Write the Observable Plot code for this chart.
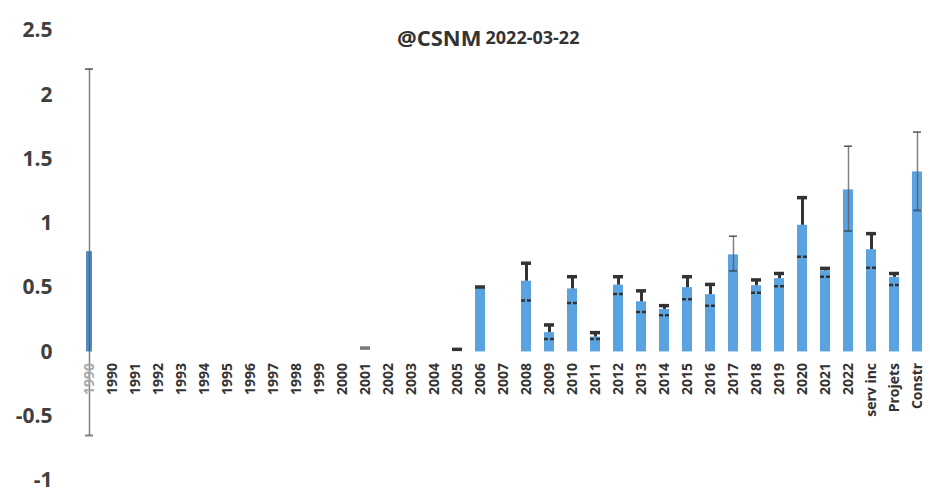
<!DOCTYPE html>
<html><head><meta charset="utf-8">
<script src="https://cdn.jsdelivr.net/npm/d3@7"></script>
<script src="https://cdn.jsdelivr.net/npm/@observablehq/plot@0.6"></script>
<style>body{margin:0;background:#fff;} #chart{width:930px;height:493px;}</style>
</head><body><div id="chart"></div>
<script>
const labels = ["1990","1990","1991","1992","1993","1994","1995","1996","1997","1998","1999","2000","2001","2002","2003","2004","2005","2006","2007","2008","2009","2010","2011","2012","2013","2014","2015","2016","2017","2018","2019","2020","2021","2022","serv inc","Projets","Constr"];
const values = [0.78,null,null,null,null,null,null,null,null,null,null,null,0.03,null,null,null,0.02,0.50,null,0.55,0.15,0.49,0.115,0.52,0.39,0.33,0.50,0.445,0.755,0.515,0.57,0.985,0.63,1.26,0.795,0.58,1.40];
const upper  = [2.20,null,null,null,null,null,null,null,null,null,null,null,0.03,null,null,null,0.02,0.505,null,0.69,0.21,0.585,0.15,0.585,0.475,0.36,0.585,0.525,0.90,0.56,0.61,1.20,0.65,1.60,0.92,0.61,1.71];
const lower  = [-0.65,null,null,null,null,null,null,null,null,null,null,null,null,null,null,null,null,null,null,0.40,0.10,0.38,0.10,0.45,0.31,0.285,0.41,0.36,0.63,0.46,0.51,0.74,0.585,0.94,0.655,0.52,1.10];
const faintErrors = [0, 28, 33, 36]; // indices with thin grey error bars
const yTicks = [-1,-0.5,0,0.5,1,1.5,2,2.5];
const titleMain = "@CSNM";
const titleDate = "2022-03-22";

const rows = labels.map((label,i)=>({i,label,v:values[i],hi:upper[i],lo:lower[i],faint:faintErrors.includes(i)}));
const bars = rows.filter(d=>d.v!=null);
const strong = bars.filter(d=>!d.faint);
const faint = bars.filter(d=>d.faint);
const font = "'Open Sans', Lato, sans-serif";

const chart = Plot.plot({
  width: 930, height: 493,
  marginLeft: 82, marginRight: 6, marginTop: 30, marginBottom: 13,
  style: {fontFamily: font, background: "#fff"},
  x: {domain: d3.range(labels.length), paddingInner: 0.55, paddingOuter: 0, axis: null},
  y: {domain: [-1, 2.5], ticks: yTicks, tickFormat: d=>String(d), label: null},
  marks: [
    Plot.axisY({ticks: yTicks, tickSize: 0, tickPadding: 30, fontSize: 21, fontWeight: "bold", fill: "#404040", tickFormat: d=>String(d), label: null}),
    Plot.barY(bars.filter(d=>d.i!==0 && d.i!==12 && d.i!==16), {x: "i", y: "v", fill: "#5aa3e0"}),
    Plot.barY(bars.filter(d=>d.i===0), {x: "i", y: "v", fill: "#4f8ec4", insetLeft: 2, insetRight: 2}),
    // faint error bars
    Plot.ruleX(faint, {x: "i", y1: "lo", y2: "hi", stroke: "#555", strokeWidth: 1.5, strokeOpacity: 0.75}),
    Plot.tickY(faint, {x: "i", y: "hi", stroke: "#555", strokeWidth: 1.5, inset: 1}),
    Plot.tickY(faint, {x: "i", y: "lo", stroke: "#333", strokeWidth: 2, strokeOpacity: 0.6, inset: 1}),
    // strong error bars
    Plot.ruleX(strong.filter(d=>d.hi>d.v), {x: "i", y1: "v", y2: "hi", stroke: "#333", strokeWidth: 3}),
    Plot.tickY(strong, {x: "i", y: "hi", stroke: d=>d.i===12?"#777":"#333", strokeWidth: 3.5}),
    Plot.tickY(strong.filter(d=>d.lo!=null), {x: "i", y: "lo", stroke: "#333", strokeWidth: 2.5, strokeDasharray: "4,2"}),
    // category labels at zero line
    Plot.text(rows, {x: "i", y: 0, text: "label", rotate: -90, textAnchor: "end", dy: 11, fontSize: 14, fontWeight: "bold", fill: d=>d.i===0?"#aaa":"#333"}),
    // title
    Plot.text([titleMain], {frameAnchor: "top", text: d=>d, textAnchor: "end", dx: -22, dy: 0, fontSize: 22, fontWeight: "bold", fill: "#333"}),
    Plot.text([titleDate], {frameAnchor: "top", text: d=>d, textAnchor: "start", dx: -18, dy: 1, fontSize: 18, fontWeight: "bold", fill: "#333"})
  ]
});
document.getElementById("chart").append(chart);
</script></body></html>
